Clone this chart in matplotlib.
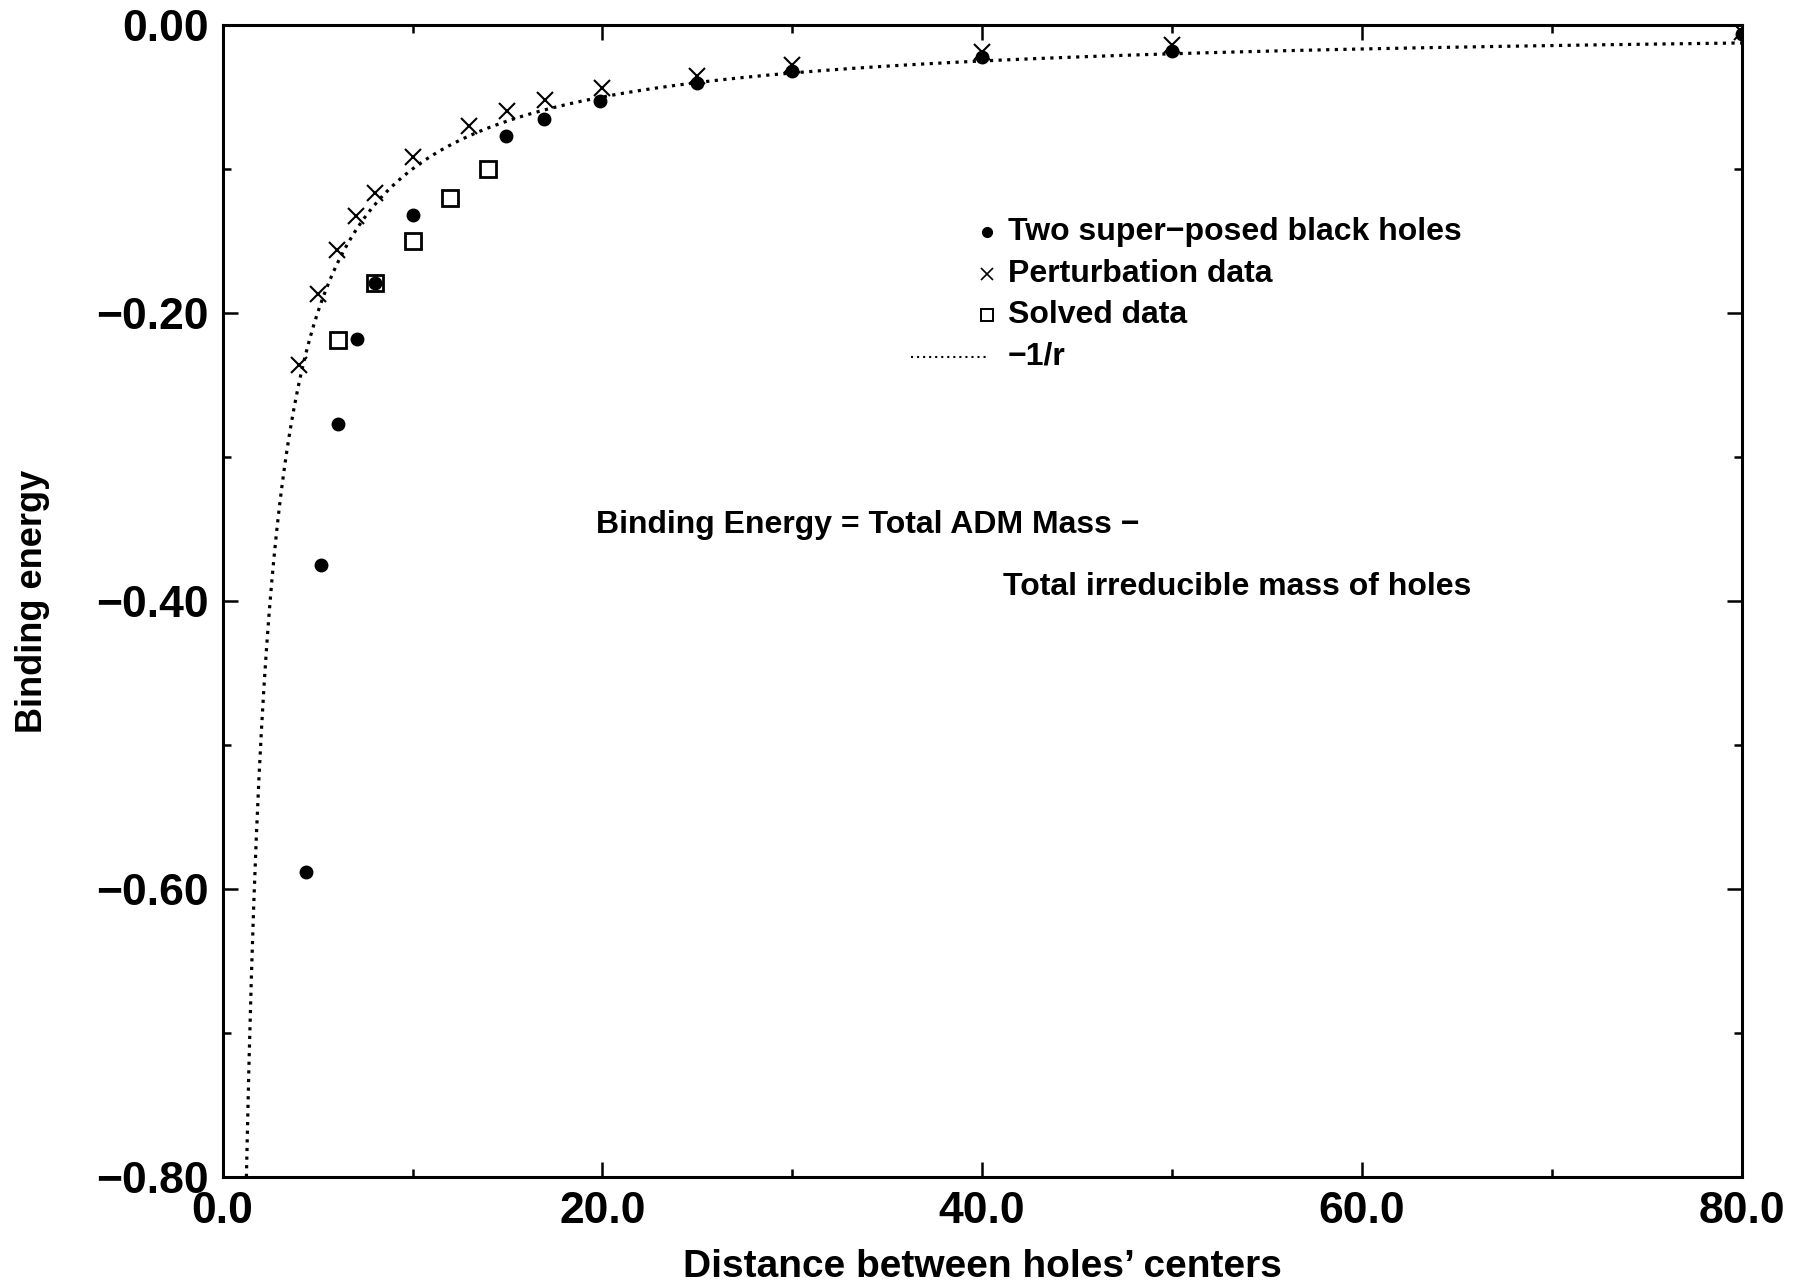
import numpy as np
import matplotlib
matplotlib.use("Agg")
import matplotlib.pyplot as plt
from matplotlib.ticker import MultipleLocator, FuncFormatter

plt.rcParams.update({"font.family": ["Liberation Sans", "DejaVu Sans"], "font.weight": "bold"})

# data
sup_r = [4.4, 5.2, 6.1, 7.1, 8.0, 10.0, 14.9, 16.9, 19.9, 25.0, 30.0, 40.0, 50.0, 80.0]
sup_e = [-0.588, -0.375, -0.277, -0.218, -0.179, -0.132, -0.077, -0.065, -0.053,
         -0.040, -0.032, -0.0225, -0.018, -0.006]
pert_r = [4.0, 5.0, 6.0, 7.0, 8.0, 10.0, 13.0, 15.0, 17.0, 20.0, 25.0, 30.0, 40.0, 50.0, 80.0]
pert_e = [-0.236, -0.187, -0.156, -0.133, -0.117, -0.092, -0.070, -0.060, -0.052,
          -0.044, -0.0357, -0.0278, -0.019, -0.0136, -0.005]
solv_r = [6.05, 8.0, 10.0, 12.0, 14.0]
solv_e = [-0.219, -0.179, -0.150, -0.120, -0.100]
# analytic reference curve named in the legend: -1/r
curve_r = np.linspace(1.25, 80, 600)
curve_e = -1.0 / curve_r

labels = ["Two super\u2212posed black holes", "Perturbation data", "Solved data", "\u22121/r"]

fig = plt.figure(figsize=(18, 12.87), dpi=100)
ax = fig.add_axes([0.1237, 0.0855, 0.8438, 0.8951])

ax.plot(curve_r, curve_e, ls=(0, (1, 1.7)), color="k", lw=2.3)
ax.plot(sup_r, sup_e, "o", color="k", ms=9, ls="none")
ax.plot(solv_r, solv_e, "s", mfc="none", mec="k", mew=2.0, ms=11, ls="none")
ax.plot(pert_r, pert_e, "x", color="k", mew=1.5, ms=12, ls="none")

ax.set_xlim(0, 80); ax.set_ylim(-0.8, 0)
ax.xaxis.set_major_locator(MultipleLocator(20)); ax.xaxis.set_minor_locator(MultipleLocator(10))
ax.yaxis.set_major_locator(MultipleLocator(0.2)); ax.yaxis.set_minor_locator(MultipleLocator(0.1))
ax.xaxis.set_major_formatter(FuncFormatter(lambda v, p: f"{v:.1f}"))
ax.yaxis.set_major_formatter(FuncFormatter(lambda v, p: f"{v:.2f}".replace("-", "\u2212")
                                           if abs(v) > 1e-9 else "0.00"))
ax.tick_params(which="both", direction="in", top=True, right=True, width=1.8)
ax.tick_params(which="major", length=11, labelsize=32, pad=10)
ax.tick_params(which="minor", length=6)
for s in ax.spines.values():
    s.set_linewidth(2.2)

ax.set_xlabel("Distance between holes\u2019 centers", fontsize=28, fontweight="bold")
ax.set_ylabel("Binding energy", fontsize=26, fontweight="bold")
ax.xaxis.set_label_coords(0.5, -0.0625)
ax.yaxis.set_label_coords(-0.114, 0.5)

# manual legend (axes fraction)
tr = ax.transAxes
lx_m, lx_t = 0.503, 0.517
rows = [0.820, 0.784, 0.748, 0.712]
ax.plot([lx_m], [rows[0]], "o", color="k", ms=7, transform=tr)
ax.plot([lx_m], [rows[1]], "x", color="k", ms=8, mew=1.2, transform=tr)
ax.plot([lx_m], [rows[2]], "s", mfc="none", mec="k", mew=1.4, ms=8, transform=tr)
ax.plot([0.453, 0.504], [rows[3]] * 2, ls=(0, (1, 1.9)), color="k", lw=1.5, transform=tr)
for lab, yy in zip(labels, rows):
    ax.text(lx_t, yy, lab, transform=tr, fontsize=23, fontweight="bold", va="center", ha="left")

ax.text(0.2456, 0.566, "Binding Energy = Total ADM Mass \u2212", transform=tr,
        fontsize=23, fontweight="bold", va="center", ha="left")
ax.text(0.5138, 0.512, "Total irreducible mass of holes", transform=tr,
        fontsize=23, fontweight="bold", va="center", ha="left")

fig.savefig("out.png", dpi=100)
